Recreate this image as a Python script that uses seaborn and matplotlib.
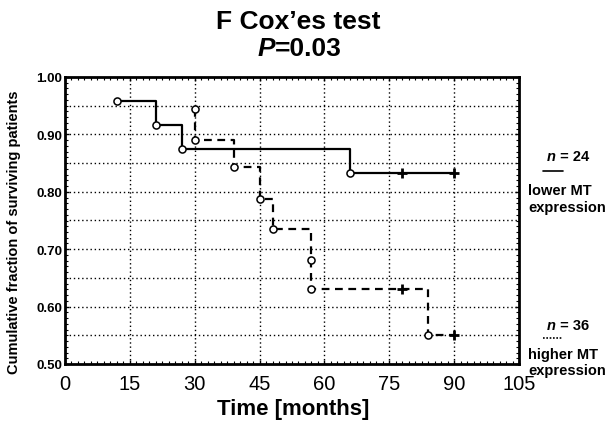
import matplotlib
matplotlib.use("Agg")
import matplotlib.pyplot as plt
import seaborn as sns
import pandas as pd
import numpy as np
from matplotlib.ticker import MultipleLocator

# ---- data ----
low_steps_t = [12, 21, 27, 66, 78, 90]
low_steps_s = [0.958, 0.917, 0.875, 0.833, 0.833, 0.833]
low_event_t = [12, 21, 27, 66]
low_event_s = [0.958, 0.917, 0.875, 0.833]
low_cens_t = [78, 90]
low_cens_s = [0.833, 0.833]

high_steps_t = [30, 30, 39, 45, 48, 57, 57, 78, 84, 90]
high_steps_s = [0.944, 0.891, 0.843, 0.787, 0.735, 0.682, 0.630, 0.630, 0.551, 0.551]
high_event_t = [30, 30, 39, 45, 48, 57, 57, 84]
high_event_s = [0.944, 0.891, 0.843, 0.787, 0.735, 0.682, 0.630, 0.551]
high_cens_t = [78, 90]
high_cens_s = [0.630, 0.551]

x_ticks = [0, 15, 30, 45, 60, 75, 90, 105]
y_ticks = [0.50, 0.60, 0.70, 0.80, 0.90, 1.00]

sns.set_theme(style="white")
plt.rcParams['font.family'] = ['Liberation Sans', 'DejaVu Sans']
plt.rcParams['text.color'] = 'black'
plt.rcParams['xtick.color'] = 'black'
plt.rcParams['ytick.color'] = 'black'
plt.rcParams['axes.labelcolor'] = 'black'

fig = plt.figure(figsize=(6.09, 4.39), dpi=100)
ax = fig.add_axes([65/609, 1-365/439, (519-65)/609, (365-78)/439])

low = pd.DataFrame({"t": low_steps_t, "s": low_steps_s})
high = pd.DataFrame({"t": high_steps_t, "s": high_steps_s})

sns.lineplot(data=low, x="t", y="s", ax=ax, estimator=None, sort=False,
             drawstyle="steps-post", color="black", linewidth=1.6, zorder=3)
sns.lineplot(data=high, x="t", y="s", ax=ax, estimator=None, sort=False,
             drawstyle="steps-post", color="black", linewidth=1.6,
             dashes=False, zorder=3).lines[-1].set_dashes([3.5, 2.5])

ev = pd.DataFrame({"t": low_event_t + high_event_t,
                   "s": low_event_s + high_event_s})
sns.scatterplot(data=ev, x="t", y="s", ax=ax, marker="o", s=26,
                facecolor="white", edgecolor="black", linewidth=1.1, zorder=4)
cs = pd.DataFrame({"t": low_cens_t + high_cens_t,
                   "s": low_cens_s + high_cens_s})
sns.scatterplot(data=cs, x="t", y="s", ax=ax, marker="+", s=60,
                color="black", linewidth=2, zorder=4)

ax.set_xlim(0, 105)
ax.set_ylim(0.50, 1.00)
ax.set_xticks(x_ticks)
ax.set_xticklabels([str(v) for v in x_ticks], fontsize=14.5)
ax.set_yticks(y_ticks)
ax.set_yticklabels([f"{v:.2f}" for v in y_ticks], fontsize=9.5, fontweight="bold")
ax.xaxis.set_minor_locator(MultipleLocator(1.5))
ax.yaxis.set_minor_locator(MultipleLocator(0.01))
ax.tick_params(axis="both", which="major", direction="in", length=3, width=1,
               color="black", pad=2, top=True, right=True, bottom=True, left=True)
ax.tick_params(axis="x", which="major", pad=7)
ax.tick_params(axis="both", which="minor", direction="in", length=2, width=0.8,
               color="black", bottom=True, top=True, left=True, right=True)

# dotted grid at every 15 months and every 0.05
for xv in range(15, 105, 15):
    ax.axvline(xv, color="black", linestyle=(0, (1, 2)), linewidth=1, zorder=1)
for yv in np.arange(0.55, 1.0, 0.05):
    ax.axhline(yv, color="black", linestyle=(0, (1, 2)), linewidth=1, zorder=1)

for sp in ax.spines.values():
    sp.set_color("black")
    sp.set_linewidth(2)
    sp.set_visible(True)

ax.set_xlabel("")
ax.set_ylabel("")

fig.text(14/609, 1-232/439, "Cumulative fraction of surviving patients", rotation=90,
         ha="center", va="center", fontsize=10.5, fontweight="bold")
fig.text(293/609, 1-410/439, "Time [months]", ha="center", va="center",
         fontsize=16, fontweight="bold")

fig.text(298/609, 1-22/439, "F Cox\u2019es test", ha="center", va="center",
         fontsize=19, fontweight="bold")
fig.text(275/609, 1-49/439, "P", ha="right", va="center", fontsize=19,
         fontweight="bold", style="italic")
fig.text(275/609, 1-49/439, "=0.03", ha="left", va="center", fontsize=19,
         fontweight="bold")

# right-side legends
def legend_block(yn, yline, y1, y2, l1, dashed, num):
    fig.text(556/609, 1-yn/439, "n", ha="right", va="center", fontsize=10.5,
             fontweight="bold", style="italic")
    fig.text(556/609, 1-yn/439, f" = {num}", ha="left", va="center",
             fontsize=10.5, fontweight="bold")
    ls = (0, (1, 1)) if dashed else "-"
    fig.add_artist(plt.Line2D([543/609, 563/609], [1-yline/439, 1-yline/439],
                              color="black", linewidth=1.2, linestyle=ls))
    fig.text(528/609, 1-y1/439, l1, ha="left", va="center", fontsize=10.5,
             fontweight="bold")
    fig.text(528/609, 1-y2/439, "expression", ha="left", va="center",
             fontsize=10.5, fontweight="bold")

legend_block(157, 172, 191, 208, "lower MT", False, 24)
legend_block(326, 339, 355, 371, "higher MT", True, 36)

fig.savefig("out.png", dpi=100, facecolor="white")
